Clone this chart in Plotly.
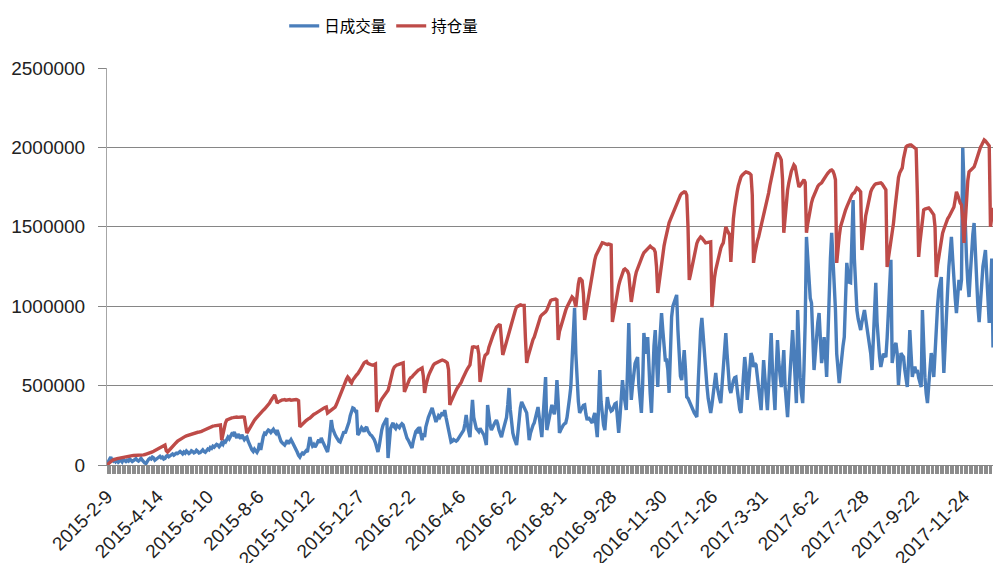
import plotly.graph_objects as go

# Tick labels on the category (trading-day) axis, one every 40 trading days
tick_index = [0, 40, 80, 120, 160, 200, 240, 280, 320, 360, 400, 440, 480, 520, 560, 600, 640, 680]
tick_labels = ["2015-2-9", "2015-4-14", "2015-6-10", "2015-8-6", "2015-10-12", "2015-12-7",
               "2016-2-2", "2016-4-6", "2016-6-2", "2016-8-1", "2016-9-28", "2016-11-30",
               "2017-1-26", "2017-3-31", "2017-6-2", "2017-7-28", "2017-9-22", "2017-11-24"]

series_names = ["日成交量", "持仓量"]

# 持仓量 (open interest), in thousands, one value per trading day
open_interest_k = [
    0, 8, 15, 22, 28, 32, 36, 38, 40, 42,
    44, 46, 48, 50, 52, 53, 55, 56, 57, 58,
    59, 60, 60, 61, 62, 62, 63, 60, 62, 64,
    66, 68, 70, 72, 75, 78, 82, 86, 90, 94,
    98, 102, 106, 110, 115, 120, 126, 90, 82, 90,
    100, 110, 120, 128, 135, 142, 150, 156, 162, 168,
    172, 176, 180, 183, 186, 190, 193, 196, 199, 201,
    203, 205, 206, 207, 208, 212, 216, 220, 225, 230,
    234, 237, 240, 243, 245, 246, 248, 249, 250, 251,
    252, 157, 200, 240, 265, 283, 288, 292, 295, 297,
    298, 300, 301, 302, 300, 302, 303, 302, 302, 300,
    250, 201, 215, 230, 245, 258, 270, 282, 292, 302,
    310, 315, 325, 335, 345, 352, 360, 370, 378, 390,
    405, 420, 432, 441, 420, 390, 398, 404, 408, 410,
    410, 412, 408, 410, 414, 412, 408, 410, 412, 410,
    412, 410, 405, 240, 250, 258, 265, 272, 280, 288,
    292, 296, 305, 312, 318, 322, 328, 333, 338, 345,
    350, 355, 358, 362, 365, 328, 335, 342, 350, 356,
    362, 365, 380, 400, 420, 440, 465, 491, 505, 520,
    540, 554, 545, 525, 516, 535, 548, 558, 567, 575,
    585, 600, 615, 630, 643, 648, 652, 640, 635, 632,
    630, 628, 632, 636, 334, 360, 385, 400, 415, 425,
    435, 445, 454, 470, 500, 540, 575, 600, 617, 625,
    630, 632, 635, 638, 640, 643, 460, 480, 505, 525,
    540, 550, 554, 565, 575, 585, 592, 598, 602, 606,
    611, 560, 454, 500, 535, 560, 580, 600, 615, 630,
    638, 643, 648, 652, 655, 658, 661, 660, 655, 650,
    643, 600, 378, 400, 420, 440, 455, 470, 485, 495,
    504, 520, 540, 560, 575, 590, 605, 615, 630, 690,
    743, 745, 742, 740, 743, 700, 523, 580, 620, 660,
    690, 700, 705, 740, 770, 787, 810, 830, 850, 868,
    875, 882, 880, 800, 693, 720, 750, 780, 806, 840,
    870, 900, 930, 955, 975, 995, 1000, 1005, 1008, 1006,
    1008, 1005, 800, 643, 680, 710, 740, 765, 790, 806,
    830, 860, 890, 915, 935, 945, 950, 955, 965, 976,
    1000, 1020, 1035, 1040, 1042, 1040, 1045, 1040, 787, 840,
    870, 894, 920, 950, 975, 995, 1010, 1030, 1045, 1058,
    1050, 1030, 995, 1080, 1140, 1178, 1170, 1160, 1080, 914,
    960, 1010, 1060, 1102, 1150, 1200, 1250, 1290, 1320, 1336,
    1360, 1380, 1395, 1400, 1398, 1392, 1390, 1388, 1392, 1390,
    1386, 900, 950, 990, 1030, 1090, 1130, 1160, 1190, 1210,
    1229, 1235, 1228, 1220, 1200, 1100, 1027, 1080, 1140, 1180,
    1216, 1240, 1260, 1280, 1300, 1320, 1336, 1345, 1355, 1365,
    1373, 1378, 1370, 1365, 1360, 1340, 1250, 1083, 1150, 1220,
    1280, 1336, 1380, 1420, 1460, 1495, 1525, 1545, 1565, 1585,
    1606, 1625, 1645, 1665, 1688, 1700, 1710, 1715, 1720, 1718,
    1700, 1500, 1166, 1200, 1240, 1290, 1342, 1370, 1395, 1415,
    1430, 1436, 1430, 1420, 1410, 1399, 1400, 1402, 1404, 1405,
    995, 1100, 1180, 1229, 1270, 1310, 1340, 1365, 1385, 1399,
    1450, 1499, 1480, 1460, 1449, 1279, 1481, 1550, 1620, 1688,
    1720, 1760, 1790, 1814, 1825, 1835, 1840, 1846, 1845, 1840,
    1835, 1827, 1700, 1273, 1330, 1380, 1410, 1436, 1470, 1505,
    1535, 1562, 1600, 1640, 1680, 1714, 1760, 1800, 1840, 1880,
    1920, 1950, 1966, 1955, 1940, 1921, 1800, 1462, 1560, 1660,
    1730, 1777, 1820, 1850, 1870, 1890, 1880, 1840, 1790, 1751,
    1760, 1775, 1785, 1796, 1780, 1462, 1520, 1570, 1615, 1651,
    1680, 1700, 1720, 1740, 1755, 1765, 1770, 1777, 1790, 1805,
    1815, 1827, 1838, 1848, 1855, 1858, 1850, 1830, 1796, 1273,
    1380, 1440, 1499, 1530, 1560, 1585, 1605, 1625, 1645, 1665,
    1685, 1700, 1710, 1714, 1730, 1745, 1740, 1730, 1720, 1354,
    1440, 1520, 1570, 1606, 1650, 1690, 1720, 1740, 1755, 1764,
    1770, 1772, 1775, 1777, 1777, 1770, 1760, 1745, 1733, 1247,
    1300, 1360, 1400, 1436, 1520, 1600, 1690, 1777, 1810, 1840,
    1860, 1871, 1930, 1980, 2003, 2010, 2015, 2016, 2016, 2010,
    2005, 1997, 1990, 1700, 1310, 1400, 1480, 1550, 1606, 1612,
    1615, 1618, 1619, 1610, 1600, 1590, 1575, 1500, 1184, 1260,
    1320, 1380, 1436, 1460, 1485, 1510, 1535, 1550, 1562, 1580,
    1595, 1610, 1625, 1670, 1720, 1700, 1670, 1650, 1638, 1550,
    1399, 1550, 1700, 1790, 1846, 1855, 1862, 1870, 1877, 1900,
    1930, 1960, 1984, 2000, 2015, 2030, 2047, 2040, 2028, 2020,
    2010, 1500, 1580, 1620,
]

# 日成交量 (daily volume), in thousands, one value per trading day
volume_k = [
    5, 20, 35, 50, 30, 25, 40, 22, 30, 18,
    25, 30, 20, 35, 28, 22, 30, 25, 38, 30,
    22, 28, 35, 40, 30, 25, 32, 42, 30, 20,
    12, 10, 25, 35, 42, 38, 50, 45, 30, 35,
    40, 48, 55, 45, 50, 38, 42, 55, 60, 52,
    58, 65, 70, 62, 68, 75, 72, 80, 85, 78,
    70, 82, 75, 88, 80, 72, 78, 90, 85, 76,
    80, 92, 85, 75, 78, 88, 95, 85, 80, 90,
    100, 95, 110, 105, 118, 112, 120, 130, 126, 115,
    125, 140, 130, 150, 145, 160, 175, 165, 180, 195,
    190, 208, 185, 170, 195, 180, 165, 190, 175, 160,
    170, 176, 150, 130, 110, 95, 85, 100, 90, 80,
    95, 139, 95, 150, 180, 200, 195, 210, 220, 215,
    205, 215, 225, 210, 200, 220, 195, 170, 150, 140,
    130, 126, 140, 155, 135, 150, 160, 145, 130, 120,
    100, 80, 60, 50, 65, 75, 70, 85, 90, 82,
    120, 176, 140, 120, 130, 113, 125, 150, 160, 140,
    170, 150, 130, 110, 95, 82, 130, 200, 283, 230,
    200, 190, 176, 160, 150, 145, 165, 190, 210, 200,
    220, 240, 270, 310, 340, 359, 355, 340, 346, 189,
    200, 220, 235, 225, 210, 230, 240, 215, 200, 190,
    185, 176, 160, 140, 110, 82, 120, 180, 220, 250,
    270, 285, 296, 44, 180, 230, 250, 265, 240, 230,
    250, 245, 235, 250, 260, 252, 220, 190, 170, 157,
    140, 120, 107, 150, 190, 210, 220, 200, 240, 200,
    157, 200, 176, 240, 283, 300, 320, 340, 359, 330,
    300, 271, 290, 310, 300, 320, 330, 310, 346, 300,
    265, 220, 180, 145, 150, 160, 155, 150, 157, 170,
    180, 190, 202, 220, 260, 315, 250, 200, 176, 300,
    410, 300, 260, 230, 220, 210, 230, 215, 200, 190,
    160, 126, 378, 300, 250, 220, 240, 260, 270, 283,
    260, 220, 200, 176, 210, 240, 260, 300, 380, 485,
    350, 260, 202, 170, 150, 126, 200, 315, 360, 397,
    380, 360, 340, 328, 250, 157, 200, 230, 250, 265,
    300, 340, 365, 300, 240, 176, 300, 420, 554, 220,
    250, 300, 340, 378, 340, 320, 380, 535, 400, 202,
    220, 240, 250, 260, 265, 300, 350, 420, 491, 700,
    850, 989, 700, 500, 400, 328, 340, 360, 375, 378,
    320, 283, 300, 290, 280, 265, 300, 328, 250, 176,
    350, 598, 400, 300, 250, 220, 320, 428, 380, 350,
    340, 346, 370, 385, 390, 300, 202, 300, 420, 535,
    450, 380, 346, 600, 894, 600, 410, 500, 600, 640,
    660, 680, 500, 400, 328, 500, 831, 750, 700, 806,
    600, 450, 328, 600, 750, 850, 650, 491, 700, 850,
    957, 850, 750, 661, 661, 600, 454, 700, 932, 1000,
    1030, 1050, 1071, 850, 650, 560, 535, 620, 724, 600,
    428, 420, 400, 380, 360, 340, 328, 315, 302, 500,
    700, 850, 926, 800, 700, 598, 500, 420, 380, 328,
    380, 450, 520, 580, 500, 450, 420, 390, 500, 650,
    750, 831, 700, 560, 480, 454, 500, 530, 550, 554,
    480, 400, 350, 328, 450, 550, 680, 600, 410, 500,
    600, 705, 680, 617, 640, 630, 560, 480, 400, 346,
    500, 661, 550, 420, 346, 500, 650, 831, 600, 450,
    346, 600, 787, 650, 560, 491, 600, 724, 500, 380,
    302, 450, 600, 750, 850, 700, 520, 390, 976, 700,
    550, 450, 390, 600, 900, 1436, 1300, 1150, 1050, 1020,
    800, 598, 700, 850, 900, 957, 800, 642, 700, 806,
    700, 554, 800, 1100, 1300, 1462, 1300, 1150, 976, 700,
    600, 516, 600, 700, 750, 806, 1000, 1273, 1200, 1150,
    1147, 1400, 1669, 1300, 1100, 976, 920, 880, 850, 900,
    950, 976, 920, 869, 800, 750, 700, 598, 800, 1000,
    1147, 900, 750, 680, 617, 650, 700, 690, 680, 800,
    976, 1100, 1292, 642, 700, 750, 769, 700, 504, 600,
    705, 690, 680, 600, 550, 491, 650, 850, 700, 554,
    600, 620, 580, 598, 550, 520, 491, 976, 700, 550,
    450, 390, 500, 600, 705, 650, 554, 700, 913, 1000,
    1100, 1150, 1184, 800, 580, 750, 976, 1100, 1250, 1350,
    1436, 1300, 1150, 1050, 957, 1050, 1166, 1100, 1166, 1997,
    1700, 1499, 1300, 1150, 1058, 1200, 1350, 1450, 1524, 1300,
    1147, 1000, 900, 1050, 1184, 1250, 1300, 1354, 1200, 1000,
    894, 1100, 1300, 740,
]

volume = [v * 1000 for v in volume_k]
open_interest = [v * 1000 for v in open_interest_k]

colors = ["#4A7EBB", "#BE4B48"]
grid_color = "#868686"
n_days = max(len(volume), len(open_interest))

fig = go.Figure()
for name, vals, col in zip(series_names, [volume, open_interest], colors):
    fig.add_trace(go.Scatter(
        x=list(range(len(vals))), y=vals, mode="lines", name=name,
        line=dict(color=col, width=3.4), hoverinfo="x+y",
    ))

fig.update_layout(
    width=993, height=563,
    margin=dict(l=107, r=0, t=68, b=98, autoexpand=False),
    paper_bgcolor="white", plot_bgcolor="white",
    showlegend=True,
    legend=dict(orientation="h", x=0.2, xanchor="left", y=1.105, yanchor="middle",
                font=dict(family="Noto Sans CJK SC", size=15.5, color="#000000"),
                itemwidth=30, tracegroupgap=0, bgcolor="rgba(0,0,0,0)"),
    font=dict(family="Liberation Sans", size=19, color="#222222"),
)

fig.update_xaxes(
    range=[0, n_days - 1], automargin=False,
    tickmode="array", tickvals=tick_index, ticktext=tick_labels,
    tickangle=-45, ticks="outside", ticklen=8, tickcolor="#8c8c8c", tickwidth=1,
    minor=dict(ticks="outside", dtick=1, tick0=0, ticklen=8, tickcolor="#8c8c8c", tickwidth=1, showgrid=False),
    showgrid=False, zeroline=False,
    showline=True, linecolor=grid_color, linewidth=1,
    tickfont=dict(family="Liberation Sans", size=19, color="#222222"),
    ticklabelstandoff=4,
)
fig.update_yaxes(
    range=[0, 2500000], dtick=500000, tick0=0, automargin=False,
    tickformat="d",
    showgrid=True, gridcolor=grid_color, gridwidth=1,
    zeroline=False,
    showline=True, linecolor="#a6a6a6", linewidth=1,
    ticks="outside", ticklen=8, tickcolor=grid_color,
    tickfont=dict(family="Liberation Sans", size=19, color="#222222"),
    ticklabelstandoff=9,
)

# Remove the browser's default page margin so the 993x563 figure fills the window exactly
fig.write_html("out.html", config={"displayModeBar": False},
               post_script="document.body.style.margin='0';document.body.style.overflow='hidden';")
